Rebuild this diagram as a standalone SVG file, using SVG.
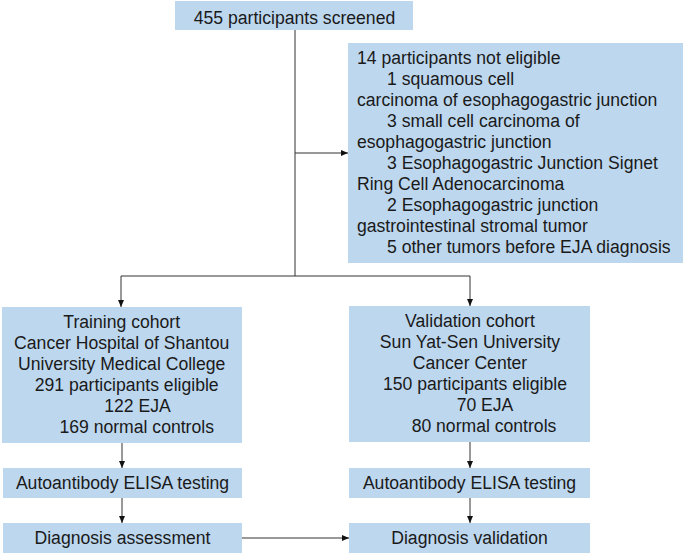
<svg xmlns="http://www.w3.org/2000/svg" width="685" height="554" viewBox="0 0 685 554">
<style>
.box{fill:#BDD7EE;}
text{font-family:"Liberation Sans",Arial,sans-serif;font-size:17.6px;fill:#1a1a1a;}
.c{text-anchor:middle;}
.ln{stroke:#333;stroke-width:1;fill:none;}
</style>
<defs>
<marker id="arr" markerUnits="userSpaceOnUse" markerWidth="8" markerHeight="8" viewBox="0 0 8 8" refX="7" refY="4" orient="auto">
<path d="M0,1 L7,4 L0,7 Z" fill="#111"/>
</marker>
</defs>
<rect width="685" height="554" fill="#fff"/>
<g id="connectors">
<path class="ln" d="M295,30 V276"/>
<path class="ln" d="M295,153 H348" marker-end="url(#arr)"/>
<path class="ln" d="M121,276 H470"/>
<path class="ln" d="M121,276 V307" marker-end="url(#arr)"/>
<path class="ln" d="M470,276 V306" marker-end="url(#arr)"/>
<path class="ln" d="M122,443 V468" marker-end="url(#arr)"/>
<path class="ln" d="M122,498 V523" marker-end="url(#arr)"/>
<path class="ln" d="M470,442 V468" marker-end="url(#arr)"/>
<path class="ln" d="M470,498 V523" marker-end="url(#arr)"/>
<path class="ln" d="M242,538 H349" marker-end="url(#arr)"/>
</g>
<g id="screened">
<rect class="box" x="175" y="1" width="238" height="29"/>
<text class="c" x="294.5" y="23.5">455 participants screened</text>
</g>
<g id="not-eligible">
<rect class="box" x="348" y="43" width="335" height="220"/>
<text x="357" y="64.3">14 participants not eligible</text>
<text x="387" y="85.2">1 squamous cell</text>
<text x="357" y="106.1">carcinoma of esophagogastric junction</text>
<text x="387" y="127">3 small cell carcinoma of</text>
<text x="357" y="148">esophagogastric junction</text>
<text x="387" y="168.9">3 Esophagogastric Junction Signet</text>
<text x="357" y="189.8">Ring Cell Adenocarcinoma</text>
<text x="387" y="210.8">2 Esophagogastric junction</text>
<text x="357" y="231.7">gastrointestinal stromal tumor</text>
<text x="387" y="252.6">5 other tumors before EJA diagnosis</text>
</g>
<g id="training">
<rect class="box" x="2" y="307" width="240" height="136"/>
<text class="c" x="121.7" y="328">Training cohort</text>
<text class="c" x="121.7" y="349">Cancer Hospital of Shantou</text>
<text class="c" x="121.7" y="370">University Medical College</text>
<text class="c" x="126.7" y="391">291 participants eligible</text>
<text class="c" x="137.5" y="412">122 EJA</text>
<text class="c" x="136.7" y="433">169 normal controls</text>
</g>
<g id="validation">
<rect class="box" x="349" y="306" width="241" height="136"/>
<text class="c" x="470" y="327">Validation cohort</text>
<text class="c" x="470" y="348">Sun Yat-Sen University</text>
<text class="c" x="470" y="369">Cancer Center</text>
<text class="c" x="475" y="390">150 participants eligible</text>
<text class="c" x="485" y="411">70 EJA</text>
<text class="c" x="484" y="432">80 normal controls</text>
</g>
<g id="elisa-left">
<rect class="box" x="3" y="468" width="239" height="30"/>
<text class="c" x="122.5" y="489.3">Autoantibody ELISA testing</text>
</g>
<g id="elisa-right">
<rect class="box" x="349" y="468" width="241" height="30"/>
<text class="c" x="469.5" y="489.3">Autoantibody ELISA testing</text>
</g>
<g id="assessment">
<rect class="box" x="3" y="523" width="239" height="30"/>
<text class="c" x="122.5" y="544.3">Diagnosis assessment</text>
</g>
<g id="diag-validation">
<rect class="box" x="349" y="523" width="241" height="30"/>
<text class="c" x="469.5" y="544.3">Diagnosis validation</text>
</g>
</svg>
